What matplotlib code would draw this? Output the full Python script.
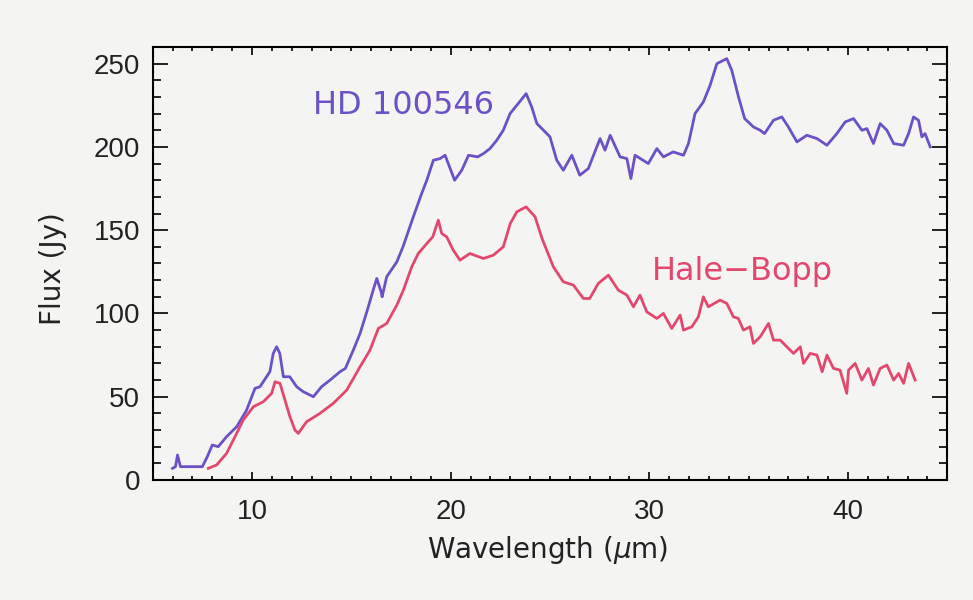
#!/usr/bin/env python3
# coding: utf-8
"""ISO SWS spectra: HD 100546 vs comet Hale-Bopp."""

import matplotlib
matplotlib.use('Agg')
import matplotlib.pyplot as plt
from matplotlib.ticker import MultipleLocator

# ── spectra (wavelength in um, flux in Jy) ────────────────────────────────────
HD100546 = [
    (6.0, 7), (6.15, 8), (6.25, 15), (6.4, 8), (7.5, 8), (7.75, 14),
    (8.0, 21), (8.3, 20), (8.72, 26), (9.23, 32), (9.73, 42), (10.15, 55),
    (10.4, 56), (10.9, 65), (11.07, 76), (11.24, 80), (11.4, 76), (11.58, 62),
    (11.9, 62), (12.25, 56), (12.58, 53), (13.09, 50), (13.5, 56), (13.93, 60),
    (14.43, 65), (14.7, 67), (15.1, 78), (15.44, 88), (15.78, 101), (16.1, 114),
    (16.28, 121), (16.5, 113), (16.55, 110), (16.78, 122), (17.29, 131),
    (17.6, 140), (18.12, 158), (18.54, 172), (18.8, 180), (19.13, 192),
    (19.47, 193), (19.72, 195), (19.88, 190), (20.2, 180), (20.56, 186),
    (20.9, 195), (21.36, 194), (21.65, 196), (21.98, 199), (22.32, 204),
    (22.65, 210), (22.99, 220), (23.33, 225), (23.8, 232), (24.08, 224),
    (24.34, 214), (24.84, 208), (25.0, 206), (25.34, 192), (25.67, 186),
    (26.1, 195), (26.5, 183), (26.93, 187), (27.52, 205), (27.77, 198),
    (28.03, 207), (28.53, 194), (28.87, 193), (29.07, 181), (29.28, 195),
    (29.95, 190), (30.38, 199), (30.71, 194), (31.2, 197), (31.72, 195),
    (31.97, 202), (32.3, 220), (32.72, 227), (33.06, 237), (33.4, 250),
    (33.9, 253), (34.15, 246), (34.49, 230), (34.8, 217), (35.24, 212),
    (35.58, 210), (35.8, 208), (36.25, 216), (36.67, 218), (37.0, 212),
    (37.43, 203), (37.93, 207), (38.44, 205), (38.94, 201), (39.44, 208),
    (39.86, 215), (40.28, 217), (40.7, 210), (40.95, 211), (41.28, 202),
    (41.62, 214), (41.96, 210), (42.3, 202), (42.8, 201), (43.05, 208),
    (43.3, 218), (43.55, 216), (43.72, 206), (43.88, 208), (44.14, 200),
]

HALE_BOPP = [
    (7.8, 7), (8.22, 9), (8.72, 16), (9.06, 24), (9.56, 36), (10.07, 44),
    (10.57, 47), (10.99, 52), (11.16, 59), (11.41, 58), (11.66, 48),
    (11.91, 38), (12.16, 30), (12.33, 28), (12.75, 35), (13.42, 40),
    (14.09, 46), (14.77, 54), (15.44, 68), (15.94, 78), (16.36, 91),
    (16.78, 94), (17.29, 105), (17.62, 114), (18.04, 128), (18.37, 136),
    (18.8, 142), (19.1, 146), (19.38, 156), (19.55, 148), (19.8, 146),
    (20.13, 138), (20.47, 132), (20.97, 136), (21.65, 133), (22.15, 135),
    (22.65, 140), (23.0, 154), (23.33, 161), (23.8, 164), (24.25, 158),
    (24.6, 145), (25.17, 128), (25.67, 119), (26.18, 117), (26.68, 109),
    (27.0, 109), (27.43, 118), (27.94, 123), (28.44, 114), (28.87, 111),
    (29.2, 104), (29.53, 111), (29.87, 101), (30.38, 97), (30.71, 100),
    (31.13, 91), (31.55, 99), (31.72, 90), (32.14, 92), (32.47, 98),
    (32.72, 110), (32.97, 104), (33.56, 108), (33.9, 106), (34.23, 98),
    (34.48, 97), (34.74, 90), (35.07, 92), (35.24, 82), (35.58, 86),
    (36.0, 94), (36.25, 84), (36.59, 84), (36.92, 80), (37.26, 76),
    (37.6, 80), (37.76, 70), (38.1, 76), (38.44, 75), (38.7, 65),
    (38.94, 75), (39.27, 67), (39.6, 66), (39.94, 52), (40.03, 66),
    (40.36, 70), (40.7, 60), (41.03, 67), (41.28, 57), (41.62, 67),
    (41.96, 69), (42.3, 60), (42.55, 64), (42.8, 58), (43.05, 70),
    (43.38, 60),
]

PURPLE = '#6a52c6'
RED    = '#e2486e'
BG     = '#f4f5f2'
INK    = '#222222'
LABEL_FONT = ['DejaVu Sans']

plt.rcParams['font.family'] = ['Liberation Sans', 'DejaVu Sans']

fig = plt.figure(figsize=(9.73, 6.0), dpi=100, facecolor=BG)
ax = fig.add_axes([0.1569, 0.2, 0.8167, 0.7217], facecolor=BG)

hd_w, hd_f = zip(*HD100546)
hb_w, hb_f = zip(*HALE_BOPP)
ax.plot(hd_w, hd_f, color=PURPLE, lw=2.0)
ax.plot(hb_w, hb_f, color=RED, lw=2.0)

ax.text(13.07, 220, 'HD 100546', color=PURPLE, fontsize=23,
        family=LABEL_FONT, va='baseline')
ax.text(30.13, 120, 'Hale\u2212Bopp', color=RED, fontsize=23,
        family=LABEL_FONT, va='baseline')

ax.set_xlim(5, 45)
ax.set_ylim(0, 260)
ax.xaxis.set_major_locator(MultipleLocator(10))
ax.xaxis.set_minor_locator(MultipleLocator(1))
ax.yaxis.set_major_locator(MultipleLocator(50))
ax.yaxis.set_minor_locator(MultipleLocator(10))

for s in ax.spines.values():
    s.set_linewidth(1.5)
ax.tick_params(which='both', direction='in', top=True, right=True,
               width=1.4, labelsize=20, colors=INK)
ax.tick_params(axis='x', which='major', length=6, pad=14)
ax.tick_params(axis='x', which='minor', length=3)
ax.tick_params(axis='y', which='major', length=11, pad=9)
ax.tick_params(axis='y', which='minor', length=5.5)

ax.set_xlabel('Wavelength ($\\mu$m)', fontsize=20, color=INK, family=LABEL_FONT)
ax.set_ylabel('Flux (Jy)', fontsize=20, color=INK, family=LABEL_FONT)
ax.xaxis.set_label_coords(0.497, -0.125)
ax.yaxis.set_label_coords(-0.108, 0.487)

plt.savefig('out.png', dpi=100, facecolor=BG)
plt.close()
